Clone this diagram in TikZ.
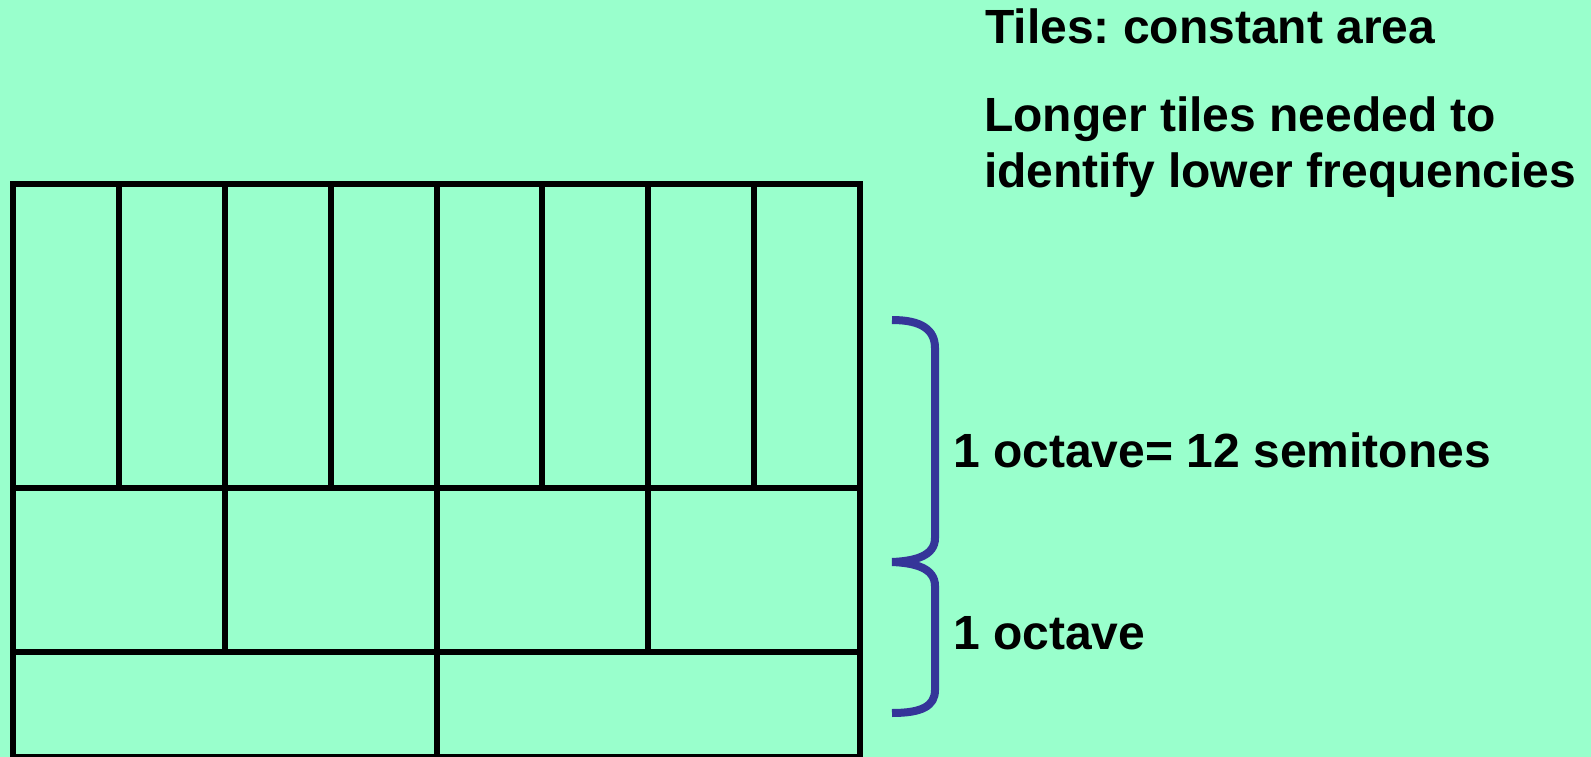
\documentclass[tikz,border=0pt]{standalone}
\usepackage{fontspec}
\setmainfont{Liberation Sans}
\frenchspacing
\definecolor{bgmint}{HTML}{99FFCC}
\definecolor{bracecol}{HTML}{353599}
\begin{document}
\begin{tikzpicture}[x=1pt,y=-1pt,
  gridline/.style={line width=6pt, black},
  bracepath/.style={line width=8pt, bracecol},
  label/.style={anchor=base west, inner sep=0pt, font=\bfseries\fontsize{48}{55}\selectfont}]
  % canvas
  \fill[bgmint] (0,0) rectangle (1591,757);
  \useasboundingbox (0,0) rectangle (1591,757);
  \begin{scope}
    \clip (0,0) rectangle (1591,757);
    % outer frame and row separators
    \draw[gridline] (13,760) -- (13,184) -- (860,184) -- (860,760);
    \draw[gridline] (13,488) -- (860,488);
    \draw[gridline] (13,652) -- (860,652);
    \draw[gridline] (13,757) -- (860,757);
    % top row: 8 tiles
    \foreach \k in {1,...,7}
      \draw[gridline] ({13+105.875*\k},184) -- ({13+105.875*\k},488);
    % middle row: 4 tiles
    \foreach \k in {1,2,3}
      \draw[gridline] ({13+211.75*\k},488) -- ({13+211.75*\k},652);
    % bottom row: 2 tiles
    \draw[gridline] (436.5,652) -- (436.5,760);
  \end{scope}
  % braces
  \coordinate (btop) at (892,320);
  \coordinate (btip) at (892,562);
  \coordinate (bbot) at (892,713);
  \draw[bracepath] (btop) .. controls (922,320) and (935,330) .. (935,348)
    -- (935,538) .. controls (935,556) and (915,561) .. (btip);
  \draw[bracepath] (btip) .. controls (915,563) and (935,568) .. (935,586)
    -- (935,690) .. controls (935,706) and (922,713) .. (bbot);
  % texts
  \node[label] (t1) at (985,44) {Tiles: constant area};
  \node[label] (t2) at (984,132) {Longer tiles needed to};
  \node[label] (t2b) at (984,187) {identify lower frequencies};
  \node[label] (t3) at (953,467) {1 octave= 12 semitones};
  \node[label] (t4) at (953,649) {1 octave};
\end{tikzpicture}
\end{document}
